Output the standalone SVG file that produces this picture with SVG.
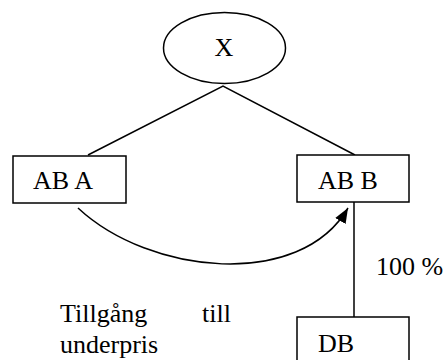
<svg xmlns="http://www.w3.org/2000/svg" width="445" height="360" viewBox="0 0 445 360">
<defs>
<style>
.shape{fill:#fff;stroke:#000;stroke-width:1.5}
.line{fill:none;stroke:#000;stroke-width:1.5}
.t{font-family:"Liberation Serif","Times New Roman",serif;font-size:26px;fill:#000}
</style>
<marker id="arr" markerUnits="userSpaceOnUse" markerWidth="16" markerHeight="14" refX="15" refY="6" orient="auto">
<path d="M0,0 L15,6 L0,12 Z" fill="#000"/>
</marker>
</defs>
<rect width="445" height="360" fill="#fff"/>
<g id="connectors">
<path class="line" d="M88,155 L223,86 L355,155"/>
<path class="line" d="M354,202 L354,317"/>
<path class="line" d="M78,208 C150,275 300,290 348,208" marker-end="url(#arr)"/>
</g>
<g id="nodeX">
<ellipse class="shape" cx="224.5" cy="48" rx="61" ry="35.5"/>
<text class="t" x="224" y="56" text-anchor="middle">X</text>
</g>
<g id="nodeABA">
<rect class="shape" x="13" y="156" width="113" height="47"/>
<text class="t" x="33" y="189">AB A</text>
</g>
<g id="nodeABB">
<rect class="shape" x="297" y="155" width="112" height="47"/>
<text class="t" x="318" y="189">AB B</text>
</g>
<g id="nodeDB">
<rect class="shape" x="297" y="317" width="112" height="50"/>
<text class="t" x="318" y="352">DB</text>
</g>
<g id="labels">
<text class="t" x="376" y="275">100 %</text>
<text class="t" x="60" y="322">Tillgång</text>
<text class="t" x="202" y="322">till</text>
<text class="t" x="60" y="353">underpris</text>
</g>
</svg>
